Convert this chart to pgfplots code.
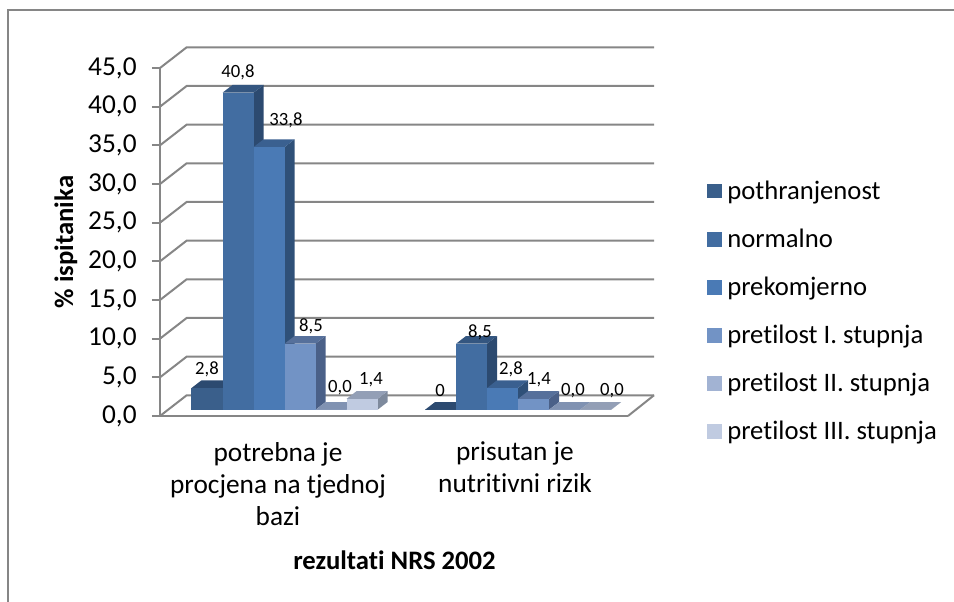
\documentclass[border=0pt]{standalone}
\usepackage{pgfplots}
\pgfplotsset{compat=1.18}
\usepackage{fontspec}
\setmainfont[Ligatures=NoCommon]{Carlito}
\definecolor{gridc}{HTML}{868686}
\definecolor{fA}{HTML}{3A5F8B}\definecolor{tA}{HTML}{2C4A70}\definecolor{sA}{HTML}{2C4A70}
\definecolor{fB}{HTML}{426DA1}\definecolor{tB}{HTML}{345680}\definecolor{sB}{HTML}{2C4A70}
\definecolor{fC}{HTML}{4A7AB5}\definecolor{tC}{HTML}{3A6090}\definecolor{sC}{HTML}{2F5078}
\definecolor{fD}{HTML}{7293C5}\definecolor{tD}{HTML}{56709B}\definecolor{sD}{HTML}{4A6088}
\definecolor{fE}{HTML}{A2B3D3}\definecolor{tE}{HTML}{8092B2}\definecolor{sE}{HTML}{6E7F9C}
\definecolor{fF}{HTML}{C0CBE1}\definecolor{tF}{HTML}{939FB6}\definecolor{sF}{HTML}{7E8A9D}
\newcommand\DrawBar[5]{%
  \pgfmathsetmacro\xa{#1}\pgfmathsetmacro\xb{#1+31}\pgfmathsetmacro\xc{#1+41}\pgfmathsetmacro\xd{#1+10}%
  \pgfmathsetmacro\yt{0.8+#2*1.005}\pgfmathsetmacro\ytt{\yt+1}%
  \addplot[fill=#5,draw=none,forget plot] coordinates {(\xb,0.8) (\xc,1.8) (\xc,\ytt) (\xb,\yt)} --cycle;
  \addplot[fill=#4,draw=none,forget plot] coordinates {(\xa,\yt) (\xb,\yt) (\xc,\ytt) (\xd,\ytt)} --cycle;
  \addplot[fill=#3,draw=none,forget plot] coordinates {(\xa,0.8) (\xb,0.8) (\xb,\yt) (\xa,\yt)} --cycle;
}
\newcommand\Lab[3]{\node[font=\fontsize{14}{16}\selectfont,inner sep=0pt,yshift=-1.5pt] at (axis cs:#1,#2) {#3};}
\begin{document}
\begin{tikzpicture}[x=1pt,y=1pt]
\path[use as bounding box] (0,0) rectangle (715.5pt,451.5pt);
\draw[gridc,line width=1.5pt] (6pt,0) -- (6pt,444pt) -- (715.5pt,444pt);
\begin{axis}[
  at={(120pt,139.5pt)},anchor=south west,
  scale only axis,width=351pt,height=261pt,
  xmin=160,xmax=628,ymin=0,ymax=45,clip=false,
  axis y line=left,axis x line=bottom,
  axis line style={gridc,line width=1.5pt,-},
  xtick={278,515},
  xticklabels={{potrebna je\\procjena na tjednoj\\bazi},{prisutan je\\nutritivni rizik}},
  xticklabel style={align=center,anchor=north,yshift=-10pt,font=\fontsize{20.5}{24}\selectfont},
  x tick style={draw=none},
  ytick={0,5,...,45},
  y tick style={gridc,line width=1.5pt},
  major tick length=6pt,tick align=outside,
  yticklabel style={font=\fontsize{20.5}{24}\selectfont,xshift=-8pt,
    /pgf/number format/.cd,fixed,fixed zerofill,precision=1,use comma,assume math mode=true},
  xlabel={\textbf{rezultati NRS 2002}},
  xlabel style={at={(rel axis cs:0.501,-0.4138)},anchor=center,font=\fontsize{20}{24}\selectfont},
  ylabel={\textbf{\% ispitanika}},
  ylabel style={at={(rel axis cs:-0.2009,0.5)},anchor=center,font=\fontsize{20}{24}\selectfont},
  legend style={at={(axis cs:707,30.8)},anchor=north west,draw=none,fill=none,
    font=\fontsize{20}{24}\selectfont,row sep=16.7pt,inner sep=0pt,
    legend cell align=left},
  legend image code/.code={\path[draw=none,#1,draw=none] (0pt,-5.6pt) rectangle (11.25pt,5.6pt);\path[draw=none,fill=none] (0pt,0pt) -- (13pt,0pt);},
]
\pgfplotsinvokeforeach{0,5,...,45}{
  \pgfmathsetmacro\yg{#1+2.68}
  \addplot[gridc,line width=1.5pt,forget plot] coordinates {(160,#1) (186.7,\yg) (654,\yg)};
}
\addplot[gridc,line width=1.5pt,forget plot] coordinates {(628,0) (654,2.68)};
% first group
\DrawBar{191.5}{2.8}{fA}{tA}{sA}
\DrawBar{222.5}{40.8}{fB}{tB}{sB}
\DrawBar{253.5}{33.8}{fC}{tC}{sC}
\DrawBar{284.5}{8.5}{fD}{tD}{sD}
\DrawBar{315.5}{0.0}{fE}{tE}{sE}
\DrawBar{346.5}{1.4}{fF}{tF}{sF}
% second group
\DrawBar{425}{0}{fA}{tA}{sA}
\DrawBar{456}{8.5}{fB}{tB}{sB}
\DrawBar{487}{2.8}{fC}{tC}{sC}
\DrawBar{518}{1.4}{fD}{tD}{sD}
\DrawBar{549}{0.0}{fE}{tE}{sE}
\DrawBar{580}{0.0}{fF}{tF}{sF}
\addlegendimage{fill=fA}\addlegendentry{pothranjenost}
\addlegendimage{fill=fB}\addlegendentry{normalno}
\addlegendimage{fill=fC}\addlegendentry{prekomjerno}
\addlegendimage{fill=fD}\addlegendentry{pretilost I. stupnja}
\addlegendimage{fill=fE}\addlegendentry{pretilost II. stupnja}
\addlegendimage{fill=fF}\addlegendentry{pretilost III. stupnja}
\Lab{238}{44.74}{40,8}
\Lab{286}{38.54}{33,8}
\Lab{207}{6.34}{2,8}
\Lab{311}{11.90}{8,5}
\Lab{340}{3.88}{0,0}
\Lab{371}{4.91}{1,4}
\Lab{440}{3.49}{0}
\Lab{480}{11.12}{8,5}
\Lab{511}{6.34}{2,8}
\Lab{539}{4.91}{1,4}
\Lab{573}{3.49}{0,0}
\Lab{612}{3.49}{0,0}
\end{axis}
\end{tikzpicture}
\end{document}
